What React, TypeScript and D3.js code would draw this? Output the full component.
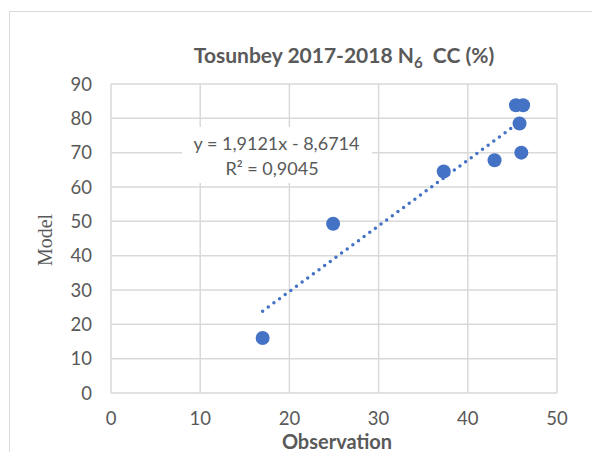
import React from "react";
import * as d3 from "d3";

const obsValues = [17.0, 24.9, 37.3, 43.0, 46.0, 45.8, 45.4, 46.2];
const modelValues = [16.0, 49.3, 64.5, 67.8, 70.0, 78.5, 83.8, 83.8];
const xTicks = [0, 10, 20, 30, 40, 50];
const yTicks = [0, 10, 20, 30, 40, 50, 60, 70, 80, 90];
const slope = 1.9121;
const intercept = -8.6714;
const eqLine1 = "y = 1,9121x - 8,6714";
const eqLine2 = "R² = 0,9045";

const W = 592;
const H = 452;
const left = 111;
const right = 557;
const top = 84;
const bottom = 393;
const font = "Lato, 'Open Sans', sans-serif";
const grey = "#595959";
const blue = "#4472C4";

export default function App() {
  const x = d3.scaleLinear().domain([0, 50]).range([left, right]);
  const y = d3.scaleLinear().domain([0, 90]).range([bottom, top]);
  const xmin = d3.min(obsValues) as number;
  const xmax = d3.max(obsValues) as number;
  const trend = d3
    .line<number>()
    .x((d) => x(d))
    .y((d) => y(slope * d + intercept))([xmin, xmax]);

  return (
    <svg
      width={W}
      height={H}
      style={{ position: "absolute", left: 0, top: 0, background: "#fff" }}
    >
      <rect x={9.5} y={11.5} width={W} height={H} fill="#fff" stroke="#d9d9d9" strokeWidth={1} />
      {xTicks.map((t) => (
        <line key={"gx" + t} x1={x(t)} x2={x(t)} y1={top} y2={bottom} stroke="#d9d9d9" strokeWidth={1.5} />
      ))}
      {yTicks.map((t) => (
        <line key={"gy" + t} x1={left} x2={right} y1={y(t)} y2={y(t)} stroke="#d9d9d9" strokeWidth={1.5} />
      ))}
      {yTicks.map((t) => (
        <text key={"ty" + t} x={92} y={y(t) + 6.5} textAnchor="end" fontFamily={font} fontSize={18.5} fill={grey}>
          {t}
        </text>
      ))}
      {xTicks.map((t) => (
        <text key={"tx" + t} x={x(t)} y={425} textAnchor="middle" fontFamily={font} fontSize={18.5} fill={grey}>
          {t}
        </text>
      ))}
      <rect x={182} y={127} width={190} height={56} fill="#fff" />
      <path d={trend ?? ""} fill="none" stroke={blue} strokeWidth={3.5} strokeLinecap="round" strokeDasharray="0 7" />
      {obsValues.map((v, i) => (
        <circle key={"p" + i} cx={x(v)} cy={y(modelValues[i])} r={7} fill={blue} />
      ))}
      <text x={276.5} y={150} textAnchor="middle" fontFamily={font} fontSize={18} fill={grey}>
        {eqLine1}
      </text>
      <text x={272} y={175} textAnchor="middle" fontFamily={font} fontSize={18} fill={grey}>
        {eqLine2}
      </text>
      <text x={344} y={63} textAnchor="middle" fontFamily={font} fontSize={21} fontWeight="bold" fill={grey}>
        Tosunbey 2017-2018 N<tspan fontSize={15} dy={5}>6</tspan>
        <tspan dy={-5}>{"\u00a0 CC (%)"}</tspan>
      </text>
      <text x={337} y={449} textAnchor="middle" fontFamily={font} fontSize={20} fontWeight="bold" fill={grey}>
        Observation
      </text>
      <text
        transform={`translate(52,240) rotate(-90)`}
        textAnchor="middle"
        fontFamily="'Liberation Serif', 'DejaVu Serif', serif"
        fontSize={20}
        fill={grey}
      >
        Model
      </text>
    </svg>
  );
}
